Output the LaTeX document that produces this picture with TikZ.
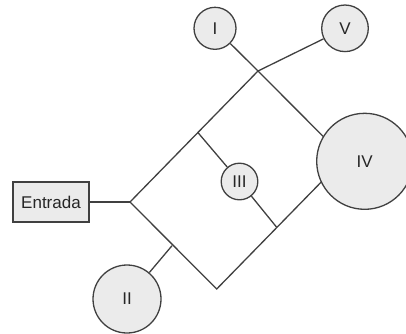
\documentclass[tikz,border=0pt]{standalone}
\usepackage{fontspec}
\setmainfont{Liberation Sans}
\usetikzlibrary{backgrounds}
\definecolor{inkgray}{HTML}{404040}
\definecolor{fillgray}{HTML}{EBEBEB}
\definecolor{textgray}{HTML}{262626}
\tikzset{
  wire/.style={draw=inkgray, line width=1.3pt, line join=miter},
  labelfont/.style={text=textgray, font=\fontsize{17}{20}\selectfont},
  bubble/.style={circle, draw=inkgray, fill=fillgray, line width=1.3pt,
    inner sep=0pt, labelfont},
  inbox/.style={rectangle, draw=inkgray, fill=fillgray, line width=1.3pt,
    inner sep=0pt, minimum width=76pt, minimum height=40pt, labelfont}
}
\begin{document}
\begin{tikzpicture}[x=1pt, y=-1pt]
  \path[use as bounding box, clip] (0,0) rectangle (406,333);

  % corners of the tilted frame and the branch points on it
  \coordinate (L) at (130,202);
  \coordinate (T) at (258,71);
  \coordinate (R) at (344.7,158);
  \coordinate (B) at (216.7,289);
  \coordinate (A) at (197.7,132.3);
  \coordinate (C) at (276.7,227.3);
  \coordinate (D) at (172,245.7);

  % input box and the five circles
  \node[inbox] (in) at (51,202) {Entrada};
  \node[bubble, minimum size=42pt]   (n1) at (215,28.3)   {I};
  \node[bubble, minimum size=46.6pt] (n5) at (345,28.3)   {V};
  \node[bubble, minimum size=36.6pt] (n3) at (239.5,181.5) {III};
  \node[bubble, minimum size=68pt]   (n2) at (127,299)    {II};
  \node[bubble, minimum size=96pt]   (n4) at (364.7,161.3) {IV};

  \begin{pgfonlayer}{background}
    % tilted frame
    \draw[wire] (L) -- (T) -- (R) -- (B) -- cycle;
    % feeds and branches
    \draw[wire] (in.east) -- (L);
    \draw[wire] (T) -- (n1);
    \draw[wire] (T) -- (n5);
    \draw[wire] (A) -- (n3);
    \draw[wire] (n3) -- (C);
    \draw[wire] (D) -- (n2);
  \end{pgfonlayer}
\end{tikzpicture}
\end{document}
